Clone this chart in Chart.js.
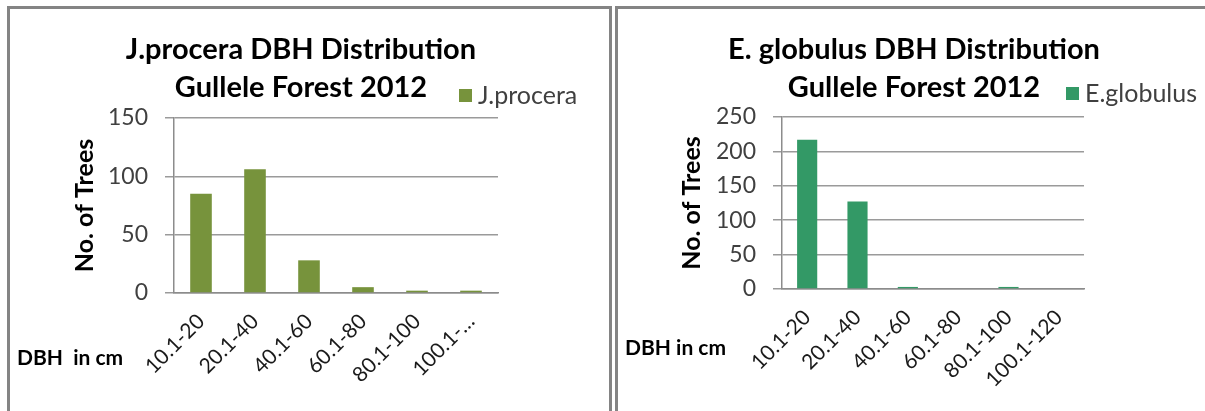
<!DOCTYPE html>
<html>
<head>
<meta charset="utf-8">
<script src="https://cdn.jsdelivr.net/npm/chart.js@4.4.1/dist/chart.umd.min.js"></script>
<style>
  html, body { margin: 0; padding: 0; background: #ffffff; }
  body { width: 1205px; height: 411px; position: relative; overflow: hidden; font-family: Lato, "Open Sans", sans-serif; }
  .panel { position: absolute; box-sizing: border-box; border: 3px solid #848484; border-bottom: none; }
  canvas { position: absolute; top: 0; }
  .title { position: absolute; text-align: center; font-weight: bold; font-size: 29px; line-height: 38px; color: #000; white-space: nowrap; }
  .legend { position: absolute; font-size: 25px; color: #404040; white-space: nowrap; line-height: 28px; }
  .legend .swatch { position: absolute; width: 13px; height: 13px; }
  .legend .text { position: absolute; top: 0; }
  .xname { position: absolute; font-weight: bold; font-size: 21px; color: #000; white-space: pre; line-height: 24px; }
</style>
</head>
<body>
<div class="panel" style="left:7px; top:6px; width:605px; height:420px;"></div>
<div class="panel" style="left:615px; top:6px; width:600px; height:420px; border-right:none;"></div>

<canvas id="chartJ" width="611" height="411" style="left:0px;"></canvas>
<canvas id="chartE" width="594" height="411" style="left:611px;"></canvas>

<div class="title" style="left:101px; width:400px; top:29px;">J.procera DBH Distribution<br>Gullele Forest 2012</div>
<div class="title" style="left:714px; width:400px; top:29px;">E. globulus DBH Distribution<br>Gullele Forest 2012</div>

<div class="legend" id="legendJ" style="left:459px; top:80px;"></div>
<div class="legend" id="legendE" style="left:1066px; top:78px;"></div>

<div class="xname" style="left:17px; top:345px;">DBH  in cm</div>
<div class="xname" style="left:625px; top:335px;">DBH in cm</div>

<script>
// DBH classes (cm) and tree counts for each species
const categoriesJ = ['10.1-20', '20.1-40', '40.1-60', '60.1-80', '80.1-100', '100.1-…'];
const countsJ = [85, 106, 28, 5, 2, 2];
const ticksJ = [0, 50, 100, 150];

const categoriesE = ['10.1-20', '20.1-40', '40.1-60', '60.1-80', '80.1-100', '100.1-120'];
const countsE = [217, 127, 3, 0, 3, 0];
const ticksE = [0, 50, 100, 150, 200, 250];

const seriesJ = 'J.procera';
const seriesE = 'E.globulus';
const colorJ = '#77933C';
const colorE = '#339966';

const FONT = 'Lato, "Open Sans", sans-serif';

function makeChart(canvasId, labels, values, tickValues, seriesName, color, pad) {
  const step = tickValues[1] - tickValues[0];
  return new Chart(document.getElementById(canvasId), {
    type: 'bar',
    data: {
      labels: labels,
      datasets: [{
        label: seriesName,
        data: values,
        backgroundColor: color,
        borderWidth: 0,
        categoryPercentage: 1.0,
        barPercentage: 0.4
      }]
    },
    options: {
      responsive: false,
      animation: false,
      devicePixelRatio: 1,
      layout: { padding: { left: pad.left, right: pad.right, top: pad.top, bottom: pad.bottom } },
      plugins: { legend: { display: false }, title: { display: false }, tooltip: { enabled: false } },
      scales: {
        x: {
          grid: { display: false, drawTicks: false },
          border: { display: true, color: '#8c8c8c', width: 1.5 },
          ticks: {
            minRotation: 45, maxRotation: 45, autoSkip: false,
            padding: 16,
            color: '#1a1a1a',
            font: { family: FONT, size: 21 }
          },
          afterFit: (s) => { s.height = pad.xHeight; }
        },
        y: {
          min: tickValues[0],
          max: tickValues[tickValues.length - 1],
          ticks: {
            stepSize: step,
            padding: 17,
            color: '#404040',
            font: { family: FONT, size: 23 }
          },
          grid: { color: '#9a9a9a', lineWidth: 1.5, tickLength: 9, drawTicks: true },
          border: { display: true, color: '#8c8c8c', width: 1.5 },
          title: {
            display: true,
            text: 'No. of Trees',
            color: '#000',
            font: { family: FONT, size: 25, weight: 'bold' },
            padding: { top: 10, bottom: 0 }
          },
          afterFit: (s) => { s.width = pad.yWidth; }
        }
      }
    }
  });
}

function makeLegend(id, name, color) {
  const el = document.getElementById(id);
  const sw = document.createElement('div');
  sw.className = 'swatch';
  sw.style.background = color;
  sw.style.left = '0px';
  sw.style.top = '9px';
  const tx = document.createElement('div');
  tx.className = 'text';
  tx.style.left = '19px';
  tx.textContent = name;
  el.appendChild(sw);
  el.appendChild(tx);
}

makeChart('chartJ', categoriesJ, countsJ, ticksJ, seriesJ, colorJ,
  { left: 60, right: 113, top: 118, bottom: 18, yWidth: 114, xHeight: 100 });
makeChart('chartE', categoriesE, countsE, ticksE, seriesE, colorE,
  { left: 56, right: 121, top: 117, bottom: 22, yWidth: 115, xHeight: 100 });

makeLegend('legendJ', seriesJ, colorJ);
makeLegend('legendE', seriesE, colorE);
</script>
</body>
</html>
